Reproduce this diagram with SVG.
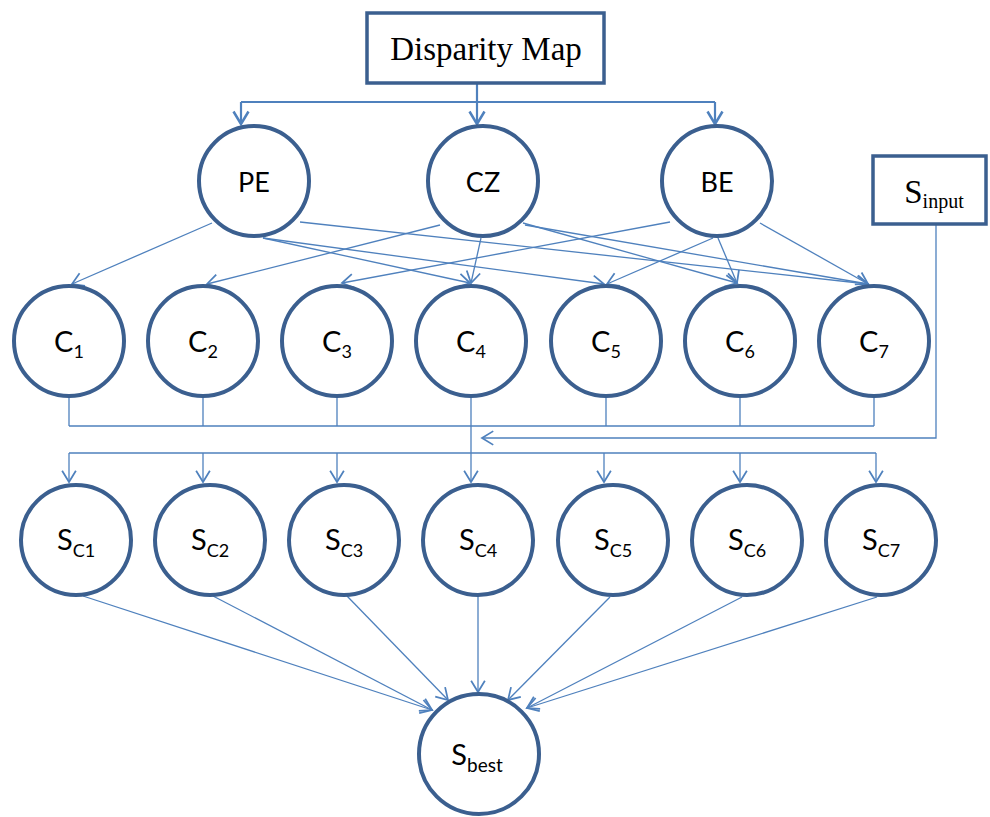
<svg xmlns="http://www.w3.org/2000/svg" width="990" height="817" viewBox="0 0 990 817">
<defs>
<marker id="ah" markerUnits="userSpaceOnUse" markerWidth="20" markerHeight="20" viewBox="-12 -8 14 16" refX="0" refY="0" orient="auto">
<path d="M-9,-5.5 L0,0 L-9,5.5" fill="none" stroke="#4F81BD" stroke-width="1.4"/>
</marker>
<marker id="ah2" markerUnits="userSpaceOnUse" markerWidth="20" markerHeight="20" viewBox="-12 -8 14 16" refX="0" refY="0" orient="auto">
<path d="M-10,-6 L0,0 L-10,6" fill="none" stroke="#4F81BD" stroke-width="2"/>
</marker>
</defs>
<style>
.node{fill:#fff;stroke:#3B5F8F;stroke-width:4}
.box{fill:#fff;stroke:#3B5F8F;stroke-width:3.5}
.lbl{font-family:Lato,"Open Sans",sans-serif;fill:#000;text-anchor:middle}
.ser{font-family:"Liberation Serif","Times New Roman",serif;fill:#000;text-anchor:middle}
.c{fill:none;stroke:#4F81BD;stroke-width:1.3}
.a{marker-end:url(#ah)}
.t{fill:none;stroke:#4F81BD;stroke-width:2.2}
</style>
<rect width="990" height="817" fill="#fff"/>
<g id="connectors">
<path class="t" d="M477,83 V102 M241,102 H715"/>
<path class="t" d="M241,102 V124" marker-end="url(#ah2)"/>
<path class="t" d="M477,102 V124" marker-end="url(#ah2)"/>
<path class="t" d="M715,102 V124" marker-end="url(#ah2)"/>
<line class="c a" x1="212" y1="223" x2="72" y2="284"/>
<line class="c a" x1="263" y1="238" x2="470" y2="283"/>
<line class="c a" x1="263" y1="238" x2="604" y2="284"/>
<line class="c a" x1="300" y1="222" x2="868" y2="284"/>
<line class="c a" x1="440" y1="225" x2="207" y2="284"/>
<line class="c a" x1="481" y1="238" x2="471" y2="283"/>
<line class="c a" x1="523" y1="223" x2="737" y2="283"/>
<line class="c a" x1="525" y1="225" x2="868" y2="284"/>
<line class="c a" x1="670" y1="222" x2="342" y2="283"/>
<line class="c a" x1="713" y1="238" x2="607" y2="284"/>
<line class="c a" x1="718" y1="238" x2="737" y2="283"/>
<line class="c a" x1="760" y1="223" x2="868" y2="284"/>
<path class="c" d="M69,398 V426 M203,398 V426 M337,398 V426 M606,398 V426 M740,398 V426 M874,398 V426 M69,426 H874 M471,398 V453 M69,453 H876"/>
<path class="c a" d="M936,225 V438 H482"/>
<line class="c a" x1="69" y1="453" x2="69" y2="482"/>
<line class="c a" x1="203" y1="453" x2="203" y2="482"/>
<line class="c a" x1="337" y1="453" x2="337" y2="482"/>
<line class="c a" x1="471" y1="453" x2="471" y2="482"/>
<line class="c a" x1="604" y1="453" x2="604" y2="482"/>
<line class="c a" x1="740" y1="453" x2="740" y2="482"/>
<line class="c a" x1="876" y1="453" x2="876" y2="482"/>
<line class="c a" x1="83" y1="596" x2="432" y2="710"/>
<line class="c a" x1="213" y1="596" x2="432" y2="710"/>
<line class="c a" x1="347" y1="596" x2="448" y2="700"/>
<line class="c a" x1="478" y1="596" x2="478" y2="692"/>
<line class="c a" x1="610" y1="597" x2="508" y2="700"/>
<line class="c a" x1="742" y1="597" x2="527" y2="708"/>
<line class="c a" x1="877" y1="597" x2="527" y2="708"/>
</g>
<g id="disparity"><rect class="box" x="367" y="13" width="237" height="70"/><text class="ser" x="486" y="60" font-size="33">Disparity Map</text></g>
<g id="sinput"><rect class="box" x="873" y="156" width="113" height="68"/><text class="ser" x="934" y="203" font-size="33">S<tspan font-size="20" dy="5">input</tspan></text></g>
<g id="PE"><circle class="node" cx="254" cy="181" r="55"/><text class="lbl" x="254" y="192" font-size="27">PE</text></g>
<g id="CZ"><circle class="node" cx="483" cy="181" r="55"/><text class="lbl" x="483" y="192" font-size="27">CZ</text></g>
<g id="BE"><circle class="node" cx="717" cy="181" r="55"/><text class="lbl" x="717" y="192" font-size="27">BE</text></g>
<g id="C1"><circle class="node" cx="69" cy="341" r="55"/><text class="lbl" x="69" y="352" font-size="29">C<tspan font-size="18" dy="6">1</tspan></text></g>
<g id="C2"><circle class="node" cx="203" cy="341" r="55"/><text class="lbl" x="203" y="352" font-size="29">C<tspan font-size="18" dy="6">2</tspan></text></g>
<g id="C3"><circle class="node" cx="337" cy="341" r="55"/><text class="lbl" x="337" y="352" font-size="29">C<tspan font-size="18" dy="6">3</tspan></text></g>
<g id="C4"><circle class="node" cx="471" cy="341" r="55"/><text class="lbl" x="471" y="352" font-size="29">C<tspan font-size="18" dy="6">4</tspan></text></g>
<g id="C5"><circle class="node" cx="606" cy="341" r="55"/><text class="lbl" x="606" y="352" font-size="29">C<tspan font-size="18" dy="6">5</tspan></text></g>
<g id="C6"><circle class="node" cx="740" cy="341" r="55"/><text class="lbl" x="740" y="352" font-size="29">C<tspan font-size="18" dy="6">6</tspan></text></g>
<g id="C7"><circle class="node" cx="874" cy="341" r="55"/><text class="lbl" x="874" y="352" font-size="29">C<tspan font-size="18" dy="6">7</tspan></text></g>
<g id="SC1"><circle class="node" cx="76" cy="540" r="55"/><text class="lbl" x="76" y="550" font-size="29">S<tspan font-size="18" dy="7">C1</tspan></text></g>
<g id="SC2"><circle class="node" cx="210" cy="540" r="55"/><text class="lbl" x="210" y="550" font-size="29">S<tspan font-size="18" dy="7">C2</tspan></text></g>
<g id="SC3"><circle class="node" cx="344" cy="540" r="55"/><text class="lbl" x="344" y="550" font-size="29">S<tspan font-size="18" dy="7">C3</tspan></text></g>
<g id="SC4"><circle class="node" cx="478" cy="540" r="55"/><text class="lbl" x="478" y="550" font-size="29">S<tspan font-size="18" dy="7">C4</tspan></text></g>
<g id="SC5"><circle class="node" cx="613" cy="540" r="55"/><text class="lbl" x="613" y="550" font-size="29">S<tspan font-size="18" dy="7">C5</tspan></text></g>
<g id="SC6"><circle class="node" cx="747" cy="540" r="55"/><text class="lbl" x="747" y="550" font-size="29">S<tspan font-size="18" dy="7">C6</tspan></text></g>
<g id="SC7"><circle class="node" cx="881" cy="540" r="55"/><text class="lbl" x="881" y="550" font-size="29">S<tspan font-size="18" dy="7">C7</tspan></text></g>
<g id="Sbest"><circle class="node" cx="479" cy="754" r="60"/><text class="lbl" x="477" y="765" font-size="29">S<tspan font-size="19" dy="7">best</tspan></text></g>
</svg>
